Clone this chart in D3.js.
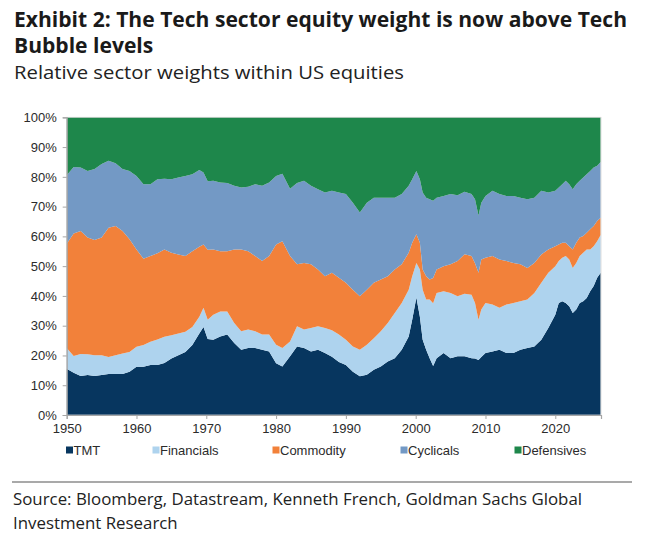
<!DOCTYPE html>
<html>
<head>
<meta charset="utf-8">
<script src="https://cdn.jsdelivr.net/npm/d3@7"></script>
<style>
  body { margin: 0; background: #fff; }
  svg { display: block; }
</style>
</head>
<body>
<div id="chart"></div>
<script>

// years (fractional where a spike needed an extra reading)
const years = [1950, 1951, 1952, 1953, 1954, 1955, 1956, 1957, 1958, 1959,
    1960, 1961, 1962, 1963, 1964, 1965, 1966, 1967, 1968, 1969, 1969.6,
    1970.2, 1971, 1972, 1973, 1974, 1975, 1976, 1977, 1978, 1979, 1980, 1980.9,
    1982, 1983, 1984, 1985, 1986, 1987, 1988, 1989, 1990, 1991, 1992, 1993,
    1994, 1995, 1996, 1997, 1998, 1999, 1999.5, 2000.1, 2000.6, 2001, 2001.5,
    2002, 2002.5, 2003, 2004, 2005, 2006, 2007, 2008, 2008.5, 2009, 2009.4,
    2010, 2011, 2012, 2013, 2014, 2015, 2016, 2017, 2018, 2019, 2020, 2020.5,
    2021, 2021.5, 2022, 2022.5, 2023, 2023.5, 2024, 2024.5, 2025, 2025.5, 2026, 2026.5];

// sector weights, % of US equities
const tmt = [15.5, 14.2, 13.1, 13.4, 13.1, 13.4, 13.8, 13.8, 13.8, 14.5,
    16.2, 16.2, 16.8, 16.8, 17.5, 19.0, 20.1, 21.2, 23.5, 27.4, 29.6,
    25.5, 25.3, 26.4, 27.0, 24.2, 21.9, 22.5, 22.5, 21.9, 21.3, 17.4, 16.3,
    19.7, 23.0, 22.5, 21.3, 21.9, 20.8, 19.6, 17.8, 16.8, 14.5, 13.0, 13.5,
    15.2, 16.3, 18.0, 19.1, 21.9, 26.4, 32.0, 39.5, 33.0, 25.3, 21.9,
    19.1, 16.5, 19.1, 20.8, 19.1, 19.7, 19.7, 19.1, 19.0, 18.5, 19.5,
    20.8, 21.3, 21.9, 20.8, 20.8, 21.9, 22.5, 23.0, 25.3, 29.2, 33.7, 37.6,
    38.2, 37.6, 36.5, 34.3, 35.4, 37.6, 38.2, 39.3, 41.6, 43.3, 46.1, 47.8];

const financials = [7.0, 5.6, 7.4, 7.0, 7.0, 6.7, 5.7, 6.3, 6.9, 6.7,
    6.7, 7.3, 7.8, 8.6, 8.8, 7.8, 7.3, 6.8, 6.1, 5.6, 6.4,
    6.5, 8.4, 8.4, 7.8, 6.7, 6.2, 6.2, 5.6, 5.1, 5.7, 6.2, 6.2,
    5.0, 6.8, 6.2, 7.9, 7.9, 8.4, 8.9, 9.2, 8.5, 8.5, 8.9, 10.1,
    10.6, 11.8, 12.9, 15.2, 15.7, 15.7, 14.6, 11.6, 15.9, 16.8, 16.9,
    19.7, 21.0, 21.9, 20.8, 21.9, 20.2, 21.0, 21.3, 18.6, 13.5, 15.9,
    16.8, 15.8, 14.1, 16.3, 16.8, 16.3, 16.3, 18.0, 19.1, 18.6, 16.3, 14.1,
    14.6, 15.8, 15.7, 15.1, 15.7, 15.8, 16.3, 16.3, 14.0, 13.4, 12.3, 12.7];

const commodity = [35.0, 41.2, 41.3, 39.2, 38.7, 39.5, 43.4, 43.4, 41.1, 37.8,
    32.7, 29.0, 28.8, 28.9, 29.3, 27.7, 26.5, 25.4, 25.4, 23.5, 21.3,
    23.5, 21.9, 20.2, 20.2, 24.7, 27.5, 26.3, 25.3, 24.7, 26.4, 33.7, 35.9,
    28.7, 20.8, 22.4, 21.4, 19.1, 17.4, 19.3, 19.1, 19.1, 19.1, 18.0, 18.5,
    18.6, 17.4, 15.7, 14.6, 13.0, 12.4, 11.3, 9.6, 9.0, 6.8, 7.8,
    6.7, 8.5, 7.9, 8.4, 9.6, 11.8, 13.3, 13.0, 13.4, 15.8, 16.8,
    15.2, 16.3, 16.2, 14.6, 13.5, 12.4, 10.6, 10.1, 9.5, 7.8, 6.7, 5.6,
    5.1, 4.5, 4.5, 6.2, 6.8, 6.2, 5.6, 5.6, 6.8, 6.8, 6.8, 5.8];

const cyclicals = [23.0, 22.3, 21.3, 22.4, 23.8, 24.7, 22.5, 21.1, 20.8, 23.0,
    24.7, 25.0, 24.1, 24.9, 23.8, 24.7, 25.9, 26.9, 25.9, 25.8, 24.2,
    23.0, 23.1, 23.1, 22.9, 21.4, 20.8, 21.7, 24.1, 25.3, 24.7, 23.0, 22.6,
    22.6, 27.3, 27.6, 26.4, 26.9, 28.1, 27.5, 28.6, 29.8, 29.2, 28.1, 29.2,
    28.6, 27.5, 26.4, 24.1, 23.6, 22.5, 21.3, 21.3, 21.3, 25.8, 26.4,
    27.0, 26.0, 24.1, 23.6, 23.6, 22.1, 21.0, 20.8, 21.5, 19.2, 19.1,
    20.8, 21.9, 22.0, 21.9, 22.5, 22.4, 23.1, 21.9, 21.4, 19.1, 18.6, 19.1,
    19.6, 20.8, 20.8, 20.2, 19.6, 19.1, 19.7, 19.7, 19.6, 19.6, 18.5, 18.7];

const defensives = [19.5, 16.7, 16.9, 18.0, 17.4, 15.7, 14.6, 15.4, 17.4, 18.0,
    19.7, 22.5, 22.5, 20.8, 20.6, 20.8, 20.2, 19.7, 19.1, 17.7, 18.5,
    21.5, 21.3, 21.9, 22.1, 23.0, 23.6, 23.3, 22.5, 23.0, 21.9, 19.7, 19.0,
    24.0, 22.1, 21.3, 23.0, 24.2, 25.3, 24.7, 25.3, 25.8, 28.7, 32.0, 28.7,
    27.0, 27.0, 27.0, 27.0, 25.8, 23.0, 20.8, 18.0, 20.8, 25.3, 27.0,
    27.5, 28.0, 27.0, 26.4, 25.8, 26.2, 25.0, 25.8, 27.5, 33.0, 28.7,
    26.4, 24.7, 25.8, 26.4, 26.4, 27.0, 27.5, 27.0, 24.7, 25.3, 24.7, 23.6,
    22.5, 21.3, 22.5, 24.2, 22.5, 21.3, 20.2, 19.1, 18.0, 16.9, 16.3, 15.0];

const sectors = ["TMT", "Financials", "Commodity", "Cyclicals", "Defensives"];
const sectorColors = ["#07365f", "#aed3ee", "#f2813a", "#7399c5", "#1e874b"];
const yTicks = [0, 10, 20, 30, 40, 50, 60, 70, 80, 90, 100];
const xTicks = [1950, 1960, 1970, 1980, 1990, 2000, 2010, 2020];

const rows = years.map((yr, i) => ({
    year: yr,
    TMT: tmt[i],
    Financials: financials[i],
    Commodity: commodity[i],
    Cyclicals: cyclicals[i],
    Defensives: defensives[i]
}));

const widthSvg = 652, heightSvg = 551;
const plotLeft = 66.7, plotRight = 601, plotTop = 117.3, plotBottom = 415;

const svg = d3.select("#chart").append("svg")
    .attr("width", widthSvg).attr("height", heightSvg);

// titles
const sansText = "'Open Sans', 'Noto Sans', sans-serif";
const chartFont = "'Liberation Sans', Arial, sans-serif";

function fitLines(lines, target) {
    // squeeze a block of lines so the first one spans the target width
    const nodes = lines.map(l => svg.append("text")
        .attr("x", l.x).attr("y", l.y)
        .attr("font-family", sansText)
        .attr("font-size", l.size)
        .attr("font-weight", l.weight)
        .attr("fill", l.fill)
        .text(l.text).node());
    const k = target / nodes[0].getComputedTextLength();
    nodes.forEach(n => {
        const w = n.getComputedTextLength() * k;
        d3.select(n).attr("textLength", w).attr("lengthAdjust", "spacingAndGlyphs");
    });
}

fitLines([
    { x: 14, y: 27, size: 20.5, weight: "bold", fill: "#1a1a1a", text: "Exhibit 2: The Tech sector equity weight is now above Tech" },
    { x: 14, y: 53, size: 20.5, weight: "bold", fill: "#1a1a1a", text: "Bubble levels" }
], 613);

fitLines([
    { x: 14, y: 79, size: 18, weight: "normal", fill: "#222", text: "Relative sector weights within US equities" }
], 390);

fitLines([
    { x: 13, y: 505, size: 15.5, weight: "normal", fill: "#222", text: "Source: Bloomberg, Datastream, Kenneth French, Goldman Sachs Global" },
    { x: 13, y: 529, size: 15.5, weight: "normal", fill: "#222", text: "Investment Research" }
], 569);

// separator above the source
svg.append("line")
    .attr("x1", 12).attr("x2", 632)
    .attr("y1", 482).attr("y2", 482)
    .attr("stroke", "#8c8c8c").attr("stroke-width", 1.3);

// scales
const xScale = d3.scaleLinear().domain([1950, 2026.55]).range([plotLeft, plotRight]);
const yScale = d3.scaleLinear().domain([0, 100]).range([plotBottom, plotTop]);
const colorScale = d3.scaleOrdinal(sectors, sectorColors);

const stacked = d3.stack().keys(sectors)(rows);

const area = d3.area()
    .x(d => xScale(d.data.year))
    .y0(d => yScale(d[0]))
    .y1(d => yScale(d[1]));

svg.append("g")
    .selectAll("path")
    .data(stacked)
    .enter()
    .append("path")
    .attr("fill", d => colorScale(d.key))
    .attr("d", area);

// plot frame
svg.append("rect")
    .attr("x", plotLeft).attr("y", plotTop)
    .attr("width", plotRight - plotLeft).attr("height", plotBottom - plotTop)
    .attr("fill", "none")
    .attr("stroke", "#d4d4d4").attr("stroke-width", 0.8);

// axes
const yAxis = svg.append("g")
    .attr("transform", `translate(${plotLeft}, 0)`)
    .call(d3.axisLeft(yScale).tickValues(yTicks).tickFormat(d => d + "%").tickSize(4).tickPadding(6));

const xAxis = svg.append("g")
    .attr("transform", `translate(0, ${plotBottom})`)
    .call(d3.axisBottom(xScale).tickValues(xTicks).tickFormat(d => d).tickSize(4).tickPadding(5));

[yAxis, xAxis].forEach(ax => {
    ax.select(".domain").attr("stroke", "#a6a6a6").attr("stroke-width", 1.2);
    ax.selectAll(".tick line").attr("stroke", "#a6a6a6");
    ax.selectAll(".tick text")
        .attr("font-family", chartFont)
        .attr("font-size", 13)
        .attr("fill", "#2b2b2b");
});

// legend
const legendX = [66, 152.5, 272.5, 400.5, 514.5];

const legend = svg.append("g")
    .attr("transform", "translate(0, 450)")
    .selectAll("g")
    .data(sectors)
    .enter()
    .append("g")
    .attr("transform", (d, i) => `translate(${legendX[i]}, 0)`);

legend.append("rect")
    .attr("x", 0).attr("y", -3.5)
    .attr("width", 7).attr("height", 7)
    .attr("fill", d => colorScale(d));

legend.append("text")
    .attr("x", 7.5).attr("y", 4.5)
    .attr("font-family", chartFont)
    .attr("font-size", 13)
    .attr("fill", "#2b2b2b")
    .text(d => d);

</script>
</body>
</html>
